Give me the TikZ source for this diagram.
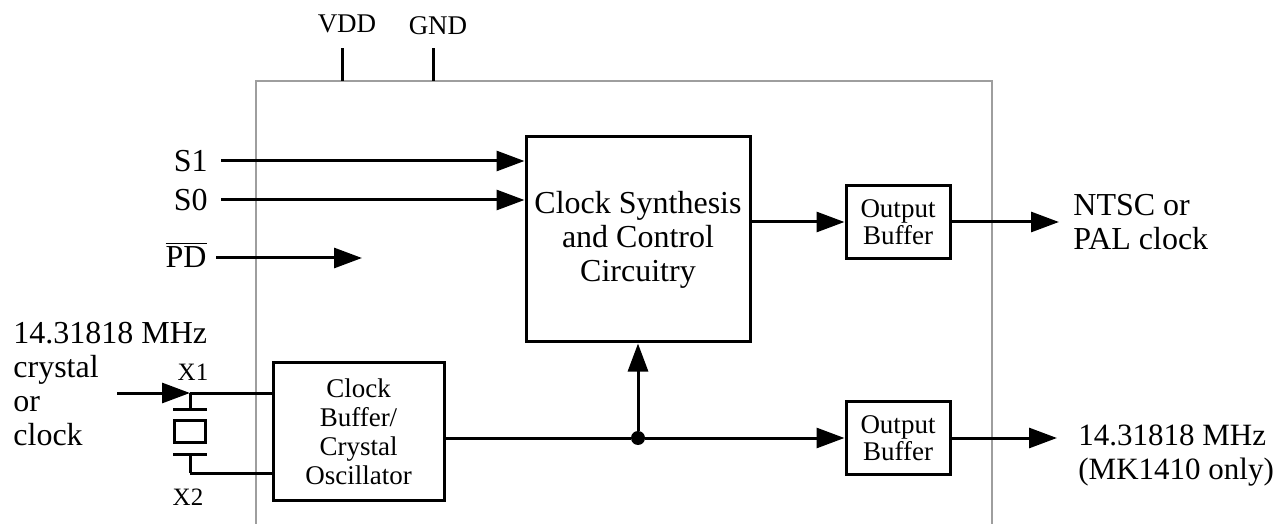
\documentclass[tikz,border=0pt]{standalone}
\usepackage{fontspec}
\setmainfont{Liberation Serif}
\usetikzlibrary{arrows.meta,positioning,shapes}

\begin{document}
\begin{tikzpicture}[x=0.5pt,y=-0.5pt,
            block/.style={draw,rectangle,line width=1.5pt,align=center,inner sep=0pt},
            synth/.style={block,minimum width=112pt,minimum height=102.5pt,font=\fontsize{16}{17}\selectfont},
            osc/.style={block,minimum width=85.5pt,minimum height=68.5pt,font=\fontsize{13.5}{14.5}\selectfont},
            obuf/.style={block,minimum width=52pt,minimum height=36.5pt,font=\fontsize{13.5}{12}\selectfont},
            lab/.style={align=left,inner sep=0pt,font=\fontsize{16}{17}\selectfont},
            pinlab/.style={inner sep=0pt,font=\fontsize{13.5}{15}\selectfont},
            xlab/.style={inner sep=0pt,font=\fontsize{12.5}{13}\selectfont},
            dot/.style={circle,fill,inner sep=0pt,minimum size=7pt},
            wire/.style={line width=1.5pt},
            arr/.style={wire,-{Triangle[length=14pt,width=10pt]}},
            chip/.style={line width=1pt,draw=black!38}
          ]
          \path[fill=white,use as bounding box] (0,0) rectangle (1282,524);

          %chip outline
          \draw[chip] (256,524) -- (256,81) -- (992,81) -- (992,524);
          \coordinate (vddpin) at (342,81);
          \coordinate (gndpin) at (433,81);
          \draw[wire] (vddpin) -- ++(0,-33);
          \draw[wire] (gndpin) -- ++(0,-33);
          \node[pinlab,anchor=base] (vdd) at (347,33) {VDD};
          \node[pinlab,anchor=base] (gnd) at (438,35) {GND};

          %blocks
          \node[synth] (synth) at (638,239.5) {Clock Synthesis\\and Control\\Circuitry};
          \node[osc] (osc) at (358.5,431.5) {Clock\\Buffer/\\Crystal\\Oscillator};
          \node[obuf] (obuf1) at (898,222) {Output\\Buffer};
          \node[obuf] (obuf2) at (898,438) {Output\\Buffer};
          \node[dot] (junc) at (synth |- obuf2) {};

          %inputs
          \node[lab,anchor=east] (s1) at (208,161) {S1};
          \node[lab,anchor=east] (s0) at (208,200) {S0};
          \node[lab,anchor=east] (pd) at (207,255) {$\overline{\hbox{PD}}$};
          \coordinate (pdend) at (362,258);
          \draw[arr] ([xshift=6.5pt]s1.east) -- (s1 -| synth.west);
          \draw[arr] ([xshift=6.5pt]s0.east) -- (s0 -| synth.west);
          \draw[arr] ([xshift=4.5pt]pd.east |- pdend) -- (pdend);

          %crystal
          \coordinate (xin) at (117,393);
          \coordinate (x1) at (190,393);
          \coordinate (x2) at (190,473);
          \node[draw,line width=1.5pt,minimum width=15.5pt,minimum height=11pt,inner sep=0pt] (xtal) at (190,431.5) {};
          \draw[wire] ([yshift=5pt]xtal.north west) -- ([yshift=5pt]xtal.north east);
          \draw[wire] ([yshift=-5pt]xtal.south west) -- ([yshift=-5pt]xtal.south east);
          \draw[wire] (x1) -- ([yshift=5pt]xtal.north);
          \draw[wire] (x2) -- ([yshift=-5pt]xtal.south);
          \draw[arr] (xin) -- (x1);
          \draw[wire] (x1) -- (x1 -| osc.west);
          \draw[wire] (x2) -- (x2 -| osc.west);
          \node[xlab] (x1lab) at (193,372) {X1};
          \node[xlab] (x2lab) at (188,497) {X2};

          %signal paths
          \draw[arr] (obuf1 -| synth.east) -- (obuf1.west);
          \draw[wire] (obuf2 -| osc.east) -- (junc);
          \draw[arr] (junc) -- (obuf2.west);
          \draw[arr] (junc) -- (synth.south);

          %outputs
          \coordinate (out1) at (1059,222);
          \coordinate (out2) at (1057,438);
          \draw[arr] (obuf1) -- (out1);
          \draw[arr] (obuf2) -- (out2);

          %labels
          \node[lab,anchor=north west] (inlab) at (13,322) {14.31818 MHz\\crystal\\or\\clock};
          \node[lab,anchor=north west] (ntsc) at (1073,194) {NTSC or\\PAL clock};
          \node[lab,anchor=north west,font=\fontsize{15.5}{17}\selectfont] (ref) at (1078,424) {14.31818 MHz\\(MK1410 only)};
      \end{tikzpicture}
\end{document}
